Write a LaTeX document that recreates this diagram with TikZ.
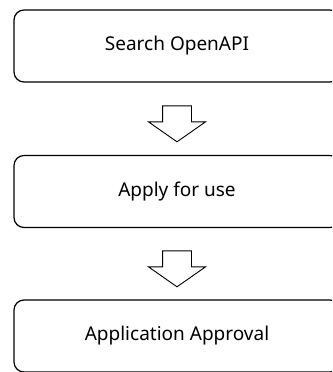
\documentclass[tikz,border=0pt]{standalone}
\usepackage{fontspec}
\setmainfont{Noto Sans}
\usetikzlibrary{shapes.arrows, calc}

\begin{document}
\begin{tikzpicture}[
  x=1pt, y=-1pt,
  every node/.style={font=\fontsize{19}{22}\selectfont},
  step box/.style={draw=black, line width=1.2pt, rounded corners=10pt, minimum width=326pt, minimum height=72pt, align=center, inner sep=0pt},
  down arrow/.style={single arrow, draw=black, line width=0.9pt, fill=white, shape border rotate=270,
    minimum height=36pt, minimum width=56pt, single arrow head extend=14pt, single arrow tip angle=110, inner xsep=14pt, inner ysep=0pt}
]
\clip (0,0) rectangle (332,372);
\useasboundingbox (0,0) rectangle (332,372);

% === STEPS ===
\node[step box] (search) at (177, 46) {Search OpenAPI};
\node[step box] (apply) at (177, 191.5) {Apply for use};
\node[step box] (approval) at (177, 336) {Application Approval};

% === ARROWS BETWEEN ===
\node[down arrow] (arrow1) at ($(search.south)!0.5!(apply.north)$) {};
\node[down arrow] (arrow2) at ($(apply.south)!0.5!(approval.north)$) {};

\end{tikzpicture}
\end{document}
